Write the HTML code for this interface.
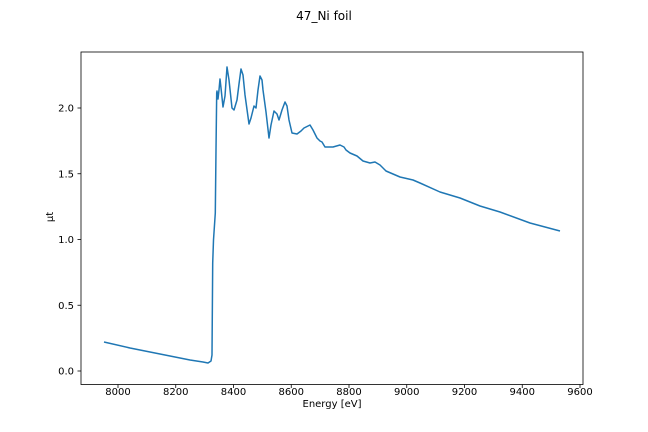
<!DOCTYPE html>
<html><head><meta charset="utf-8"><style>body{margin:0;background:#fff}svg{display:block}text{font-family:"DejaVu Sans","Liberation Sans",sans-serif;font-size:10px;fill:#000}</style></head><body>
<svg width="648" height="432" viewBox="0 0 648 432">
<rect x="81" y="52" width="502" height="332.5" fill="none" stroke="#000" stroke-width="0.8"/>
<polyline fill="none" stroke="#1f77b4" stroke-width="1.5" stroke-linejoin="round" points="104,342 130,348 160,354 190,360 203,362 208,363 211,361 212,355 212.7,263 213.5,240 215.3,213 216,150 216.7,93 217,91 218,99 219,90 220,79 221,88 223,107 225,96 227,67 229,80 232,108 234,110 237,100 239,84 241,69 243,75 245,95 249,124 251,118 254,106 256,108 258,90 260,76 262,80 263,90 266,112 269,138 271,125 274,111 277,114 279,120 282,110 285,102 287,106 289,120 292,133 297,134 301,131 304,128 310,125 313,130 317,138 320,141 322,142 325,147 333,147 340,145 344,147 346,150 350,153 357,156 363,161 370,163 375,162 380,165 386,171 393,174 400,177 413,180 420,183 440,192 460,198 480,206 500,212 530,223 560,231"/>
<g stroke="#000" stroke-width="0.8">
<line x1="118" y1="384.5" x2="118" y2="388"/><line x1="175.75" y1="384.5" x2="175.75" y2="388"/><line x1="233.5" y1="384.5" x2="233.5" y2="388"/><line x1="291.25" y1="384.5" x2="291.25" y2="388"/><line x1="349" y1="384.5" x2="349" y2="388"/><line x1="406.75" y1="384.5" x2="406.75" y2="388"/><line x1="464.5" y1="384.5" x2="464.5" y2="388"/><line x1="522.25" y1="384.5" x2="522.25" y2="388"/><line x1="580" y1="384.5" x2="580" y2="388"/>
<line x1="77.5" y1="371" x2="81" y2="371"/><line x1="77.5" y1="305.25" x2="81" y2="305.25"/><line x1="77.5" y1="239.5" x2="81" y2="239.5"/><line x1="77.5" y1="173.75" x2="81" y2="173.75"/><line x1="77.5" y1="108" x2="81" y2="108"/>
</g>
<g text-anchor="middle">
<text x="118" y="395">8000</text><text x="175.75" y="395">8200</text><text x="233.5" y="395">8400</text><text x="291.25" y="395">8600</text><text x="349" y="395">8800</text><text x="406.75" y="395">9000</text><text x="464.5" y="395">9200</text><text x="522.25" y="395">9400</text><text x="580" y="395">9600</text>
<text x="332" y="407">Energy [eV]</text>
<text x="324" y="20" style="font-size:12px">47_Ni foil</text>
</g>
<g text-anchor="end">
<text x="74" y="374.5">0.0</text><text x="74" y="308.75">0.5</text><text x="74" y="243">1.0</text><text x="74" y="177.25">1.5</text><text x="74" y="111.5">2.0</text>
</g>
<text x="0" y="0" text-anchor="middle" transform="translate(53,217) rotate(-90)">μt</text>
</svg>
</body></html>
